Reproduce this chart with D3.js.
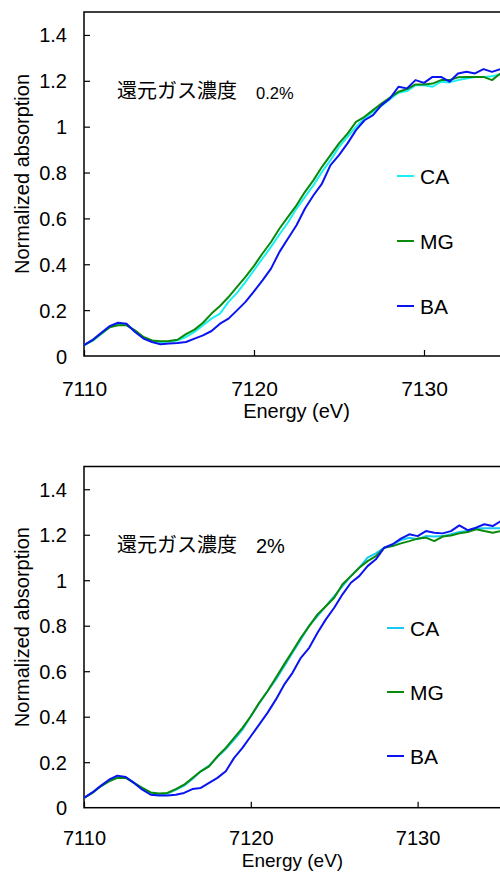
<!DOCTYPE html>
<html lang="ja">
<head>
<meta charset="UTF-8">
<title>XANES — 還元ガス濃度</title>
<script src="https://d3js.org/d3.v7.min.js"></script>
<style>
html,body{margin:0;padding:0;background:#fff}
svg{display:block}
.tick text,.lbl{font-family:"Liberation Sans",Arial,sans-serif;fill:#000}
.jp{font-family:"Noto Sans CJK JP",sans-serif;fill:#000}
.frame{fill:none;stroke:#000;stroke-width:1.5}
.tick line{stroke:#000;stroke-width:1.2}
.curve{fill:none;stroke-width:2;stroke-linejoin:round}
</style>
</head>
<body>
<svg id="chart" width="500" height="872"></svg>
<script>
// ── data ──
var energy = [7110, 7110.5, 7111, 7111.5, 7112, 7112.5, 7113, 7113.5, 7114, 7114.5,
  7115, 7115.5, 7116, 7116.5, 7117, 7117.5, 7118, 7118.5, 7119, 7119.5,
  7120, 7120.5, 7121, 7121.5, 7122, 7122.5, 7123, 7123.5, 7124, 7124.5,
  7125, 7125.5, 7126, 7126.5, 7127, 7127.5, 7128, 7128.5, 7129, 7129.5,
  7130, 7130.5, 7131, 7131.5, 7132, 7132.5, 7133, 7133.5, 7134, 7134.5, 7135];

var seriesNames = ['CA', 'MG', 'BA'];

// 0.2% panel
var lowCA = [0.047, 0.066, 0.095, 0.125, 0.138, 0.137, 0.109, 0.080, 0.067, 0.061,
  0.063, 0.068, 0.083, 0.105, 0.134, 0.163, 0.185, 0.236, 0.275, 0.323,
  0.374, 0.425, 0.476, 0.531, 0.582, 0.643, 0.694, 0.745, 0.803, 0.854,
  0.912, 0.956, 0.999, 1.036, 1.065, 1.091, 1.120, 1.148, 1.155, 1.181,
  1.181, 1.174, 1.196, 1.193, 1.203, 1.210, 1.217, 1.217, 1.220, 1.228, 1.230];
var lowMG = [0.047, 0.068, 0.097, 0.125, 0.134, 0.134, 0.112, 0.083, 0.068, 0.064,
  0.065, 0.071, 0.095, 0.115, 0.145, 0.185, 0.218, 0.257, 0.301, 0.345,
  0.393, 0.447, 0.497, 0.556, 0.607, 0.657, 0.716, 0.767, 0.825, 0.876,
  0.927, 0.970, 1.021, 1.043, 1.072, 1.101, 1.127, 1.152, 1.164, 1.184,
  1.184, 1.188, 1.203, 1.203, 1.215, 1.217, 1.217, 1.217, 1.203, 1.232, 1.235];
var lowBA = [0.047, 0.070, 0.100, 0.130, 0.145, 0.141, 0.105, 0.076, 0.061, 0.051,
  0.054, 0.057, 0.061, 0.076, 0.090, 0.109, 0.141, 0.163, 0.199, 0.236,
  0.282, 0.330, 0.381, 0.454, 0.512, 0.570, 0.643, 0.701, 0.752, 0.832,
  0.876, 0.927, 0.985, 1.028, 1.050, 1.094, 1.123, 1.174, 1.167, 1.203,
  1.191, 1.217, 1.217, 1.196, 1.232, 1.239, 1.232, 1.251, 1.239, 1.251, 1.250];

// 2% panel
var highCA = [0.043, 0.065, 0.094, 0.118, 0.135, 0.133, 0.109, 0.083, 0.065, 0.057,
  0.062, 0.079, 0.097, 0.126, 0.160, 0.185, 0.223, 0.258, 0.299, 0.343,
  0.402, 0.458, 0.512, 0.563, 0.622, 0.681, 0.740, 0.801, 0.842, 0.886,
  0.930, 0.974, 1.018, 1.055, 1.099, 1.118, 1.143, 1.155, 1.177, 1.187,
  1.180, 1.194, 1.192, 1.194, 1.202, 1.212, 1.216, 1.227, 1.228, 1.228, 1.228];
var highMG = [0.043, 0.065, 0.094, 0.116, 0.131, 0.131, 0.109, 0.087, 0.067, 0.062,
  0.065, 0.082, 0.101, 0.131, 0.160, 0.182, 0.226, 0.263, 0.307, 0.351,
  0.402, 0.461, 0.512, 0.571, 0.630, 0.688, 0.747, 0.798, 0.850, 0.886,
  0.923, 0.982, 1.018, 1.055, 1.084, 1.106, 1.143, 1.150, 1.162, 1.172,
  1.183, 1.187, 1.172, 1.192, 1.197, 1.206, 1.212, 1.224, 1.216, 1.209, 1.216];
var highBA = [0.043, 0.067, 0.096, 0.123, 0.141, 0.135, 0.109, 0.079, 0.057, 0.054,
  0.054, 0.057, 0.065, 0.082, 0.087, 0.109, 0.131, 0.160, 0.219, 0.263,
  0.314, 0.365, 0.417, 0.475, 0.541, 0.593, 0.659, 0.703, 0.769, 0.828,
  0.879, 0.938, 0.989, 1.018, 1.062, 1.092, 1.143, 1.158, 1.183, 1.202,
  1.194, 1.216, 1.209, 1.206, 1.216, 1.241, 1.220, 1.231, 1.246, 1.238, 1.260];

var xTicks = [7110, 7120, 7130];
var yTicks = [0, 0.2, 0.4, 0.6, 0.8, 1, 1.2, 1.4];
var yTickLabels = ['0', '0.2', '0.4', '0.6', '0.8', '1', '1.2', '1.4'];

var panels = [
  { title: '還元ガス濃度', conc: '0.2%', values: [lowCA, lowMG, lowBA] },
  { title: '還元ガス濃度', conc: '2%', values: [highCA, highMG, highBA] }
];

// ── layout (per panel) ──
var layout = [
  { left: 84, right: 509, top: 12, bottom: 356, concSize: 16.5, legX: 397, legY: [176, 241, 306],
    colors: ['#19f0f0', '#0a8a0a', '#0a14f0'], xPad: 25, xSize: 21, titleY: 418, titleSize: 20 },
  { left: 84, right: 501, top: 466.5, bottom: 807.7, concSize: 20, legX: 387, legY: [628, 692, 756],
    colors: ['#18c8f2', '#0a8a0a', '#0a14f0'], xPad: 23, xSize: 20, titleY: 867, titleSize: 19 }
];

var svg = d3.select('#chart');

panels.forEach(function(p, pi) {
  var L = layout[pi];
  var x = d3.scaleLinear().domain([7110, 7135]).range([L.left, L.right]);
  var y = d3.scaleLinear().domain([0, 1.5]).range([L.bottom, L.top]);
  var g = svg.append('g');

  var clipId = 'clip' + pi;
  g.append('clipPath').attr('id', clipId).append('rect')
    .attr('x', L.left).attr('y', L.top)
    .attr('width', L.right - L.left).attr('height', L.bottom - L.top);

  // axes with inward ticks
  var yAxis = g.append('g').attr('transform', 'translate(' + L.left + ',0)')
    .call(d3.axisLeft(y).tickValues(yTicks).tickSize(-6).tickSizeOuter(0).tickPadding(17)
      .tickFormat(function(d, i) { return yTickLabels[i]; }));
  yAxis.select('.domain').remove();
  yAxis.selectAll('.tick text').attr('font-size', 20).attr('dy', '0.35em');
  yAxis.selectAll('.tick').filter(function(d) { return d === 0; }).select('line').remove();

  var xAxis = g.append('g').attr('transform', 'translate(0,' + L.bottom + ')')
    .call(d3.axisBottom(x).tickValues(xTicks).tickSize(-6).tickSizeOuter(0).tickPadding(L.xPad)
      .tickFormat(d3.format('d')));
  xAxis.select('.domain').remove();
  xAxis.selectAll('.tick text').attr('font-size', L.xSize);

  // frame
  g.append('rect').attr('class', 'frame')
    .attr('x', L.left).attr('y', L.top)
    .attr('width', L.right - L.left).attr('height', L.bottom - L.top);

  // curves
  var line = d3.line()
    .x(function(d, i) { return x(energy[i]); })
    .y(function(d) { return y(d); });

  var plot = g.append('g').attr('clip-path', 'url(#' + clipId + ')');
  p.values.forEach(function(vals, si) {
    plot.append('path').attr('class', 'curve')
      .attr('stroke', L.colors[si])
      .attr('d', line(vals));
  });

  // legend
  seriesNames.forEach(function(name, si) {
    g.append('line')
      .attr('x1', L.legX).attr('x2', L.legX + 17)
      .attr('y1', L.legY[si]).attr('y2', L.legY[si])
      .attr('stroke', L.colors[si]).attr('stroke-width', 2);
    g.append('text').attr('class', 'lbl')
      .attr('x', L.legX + 23).attr('y', L.legY[si]).attr('dy', '0.36em')
      .attr('font-size', 21).text(name);
  });

  // annotation
  g.append('text').attr('class', 'jp')
    .attr('x', L.left + 33).attr('y', y(1.15) + 6)
    .attr('font-size', 20).text(p.title);
  g.append('text').attr('class', 'lbl')
    .attr('x', L.left + 172).attr('y', y(1.15) + 7)
    .attr('font-size', L.concSize).text(p.conc);

  // axis titles
  g.append('text').attr('class', 'lbl')
    .attr('text-anchor', 'middle')
    .attr('transform', 'translate(29,' + ((L.top + L.bottom) / 2 - 10) + ') rotate(-90)')
    .attr('font-size', 20).text('Normalized absorption');
  g.append('text').attr('class', 'lbl')
    .attr('text-anchor', 'middle')
    .attr('x', (L.left + L.right) / 2).attr('y', L.titleY)
    .attr('font-size', L.titleSize).text('Energy (eV)');
});
</script>
</body>
</html>
